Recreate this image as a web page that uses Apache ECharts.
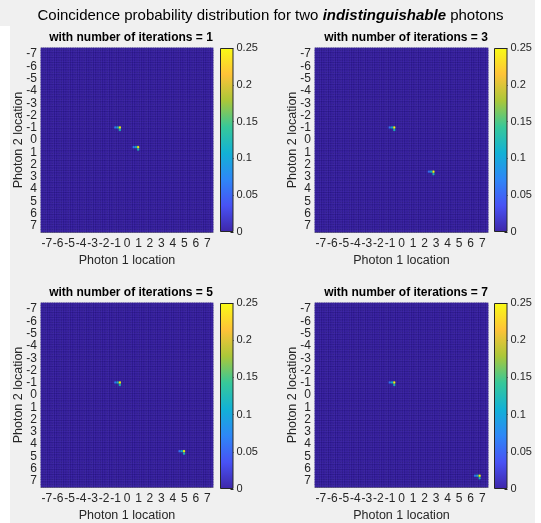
<!DOCTYPE html>
<html>
<head>
<meta charset="utf-8">
<script src="https://cdn.jsdelivr.net/npm/echarts@6/dist/echarts.min.js"></script>
<style>
  html, body { margin: 0; padding: 0; background: #ffffff; }
  #chart { width: 541px; height: 523px; }
</style>
</head>
<body>
<div id="chart"></div>
<script>
// grid of locations, step 0.2, from -7.4 to 7.4 (cell centres)
const locations = []
for (let i = -37; i <= 37; i++) locations.push((i / 5).toFixed(1))

const iterations = [1, 3, 5, 7]
// first photon pair peak stays put, second one walks along the diagonal
const peakA = [-0.6, -1.0]
const peakBx = [1.0, 2.8, 5.0, 6.8]
const peakBy = [0.6, 2.6, 4.6, 6.6]
// values of the little cluster: [dx, dy, value]
const peakShape = [
  [0, 0, 0.25],
  [-0.2, 0, 0.11],
  [-0.4, 0, 0.06],
  [0, 0.2, 0.12]
]
const cbarTicks = [0, 0.05, 0.1, 0.15, 0.2, 0.25]

const parula = ['#3e26a8', '#4852f4', '#2e87f7', '#12b1d6', '#37c899', '#abc739', '#fec338', '#f9fb15']

// panel layout (plot box, colorbar, title centre)
const panels = [
  { left: 41, top: 48, width: 172, height: 184, cbLeft: 220, tx: 126, ty: 27 },
  { left: 315, top: 48, width: 173, height: 184, cbLeft: 494, tx: 401, ty: 27 },
  { left: 41, top: 303, width: 172, height: 186, cbLeft: 220, tx: 126, ty: 282 },
  { left: 315, top: 303, width: 173, height: 186, cbLeft: 494, tx: 401, ty: 282 }
]

function idx(v) {
  return Math.round(v * 5) + 37
}

function buildData(k) {
  const grid = {}
  const add = (x, y, v) => { grid[idx(x) + '_' + idx(y)] = v }
  peakShape.forEach(p => {
    add(peakA[0] + p[0], peakA[1] + p[1], p[2])
    add(peakBx[k] + p[0], peakBy[k] + p[1], p[2])
  })
  const data = []
  for (let i = 0; i < locations.length; i++) {
    for (let j = 0; j < locations.length; j++) {
      const v = grid[i + '_' + j] || 0
      data.push([i, j, v])
    }
  }
  return data
}

const chart = echarts.init(document.getElementById('chart'))
const txt = '#262626'
const labelIv = (i) => (i - 2) % 5 === 0
const labelFmt = (v) => String(Math.round(parseFloat(v)))

const option = {
  backgroundColor: '#ffffff',
  animation: false,
  graphic: [{
    type: 'rect', silent: true, z: -10,
    shape: { x: 10, y: 0, width: 525, height: 523 },
    style: { fill: '#f0f0f0' }
  }, {
    type: 'rect', silent: true, z: -10,
    shape: { x: 0, y: 0, width: 12, height: 26 },
    style: { fill: '#f0f0f0' }
  }],
  title: [{
    text: '{a|Coincidence probability distribution for two }{b|indistinguishable}{a| photons}',
    left: 'center',
    top: 3,
    textStyle: {
      fontWeight: 'normal',
      rich: {
        a: { fontFamily: 'Liberation Sans', fontSize: 15, fontWeight: 'normal', color: '#000' },
        b: { fontFamily: 'Liberation Sans', fontSize: 15, fontWeight: 'bold', fontStyle: 'italic', color: '#000' }
      }
    }
  }],
  visualMap: {
    show: false,
    min: 0,
    max: 0.25,
    seriesIndex: [0, 1, 2, 3],
    inRange: { color: parula }
  },
  grid: [],
  xAxis: [],
  yAxis: [],
  series: []
}

panels.forEach((p, k) => {
  option.title.push({
    text: 'with number of iterations = ' + iterations[k],
    left: p.tx,
    textAlign: 'center',
    top: p.ty,
    textStyle: { fontFamily: 'Liberation Sans', fontSize: 12, fontWeight: 'bold', color: '#000' }
  })
  option.grid.push({ left: p.left, top: p.top, width: p.width, height: p.height })
  option.xAxis.push({
    type: 'category',
    gridIndex: k,
    data: locations,
    name: 'Photon 1 location',
    nameLocation: 'middle',
    nameGap: 22,
    nameMoveOverlap: false,
    nameTextStyle: { fontFamily: 'Liberation Sans', fontSize: 12.5, color: txt },
    axisLine: { show: true, lineStyle: { color: txt, width: 0.5 } },
    axisTick: { show: false },
    axisLabel: {
      interval: labelIv,
      formatter: labelFmt,
      fontFamily: 'Liberation Sans',
      fontSize: 12,
      color: txt,
      margin: 6
    },
    splitLine: { show: false }
  })
  option.yAxis.push({
    type: 'category',
    gridIndex: k,
    data: locations,
    inverse: true,
    name: 'Photon 2 location',
    nameLocation: 'middle',
    nameGap: 16,
    nameMoveOverlap: false,
    nameTextStyle: { fontFamily: 'Liberation Sans', fontSize: 12.5, color: txt },
    axisLine: { show: true, lineStyle: { color: txt, width: 0.5 } },
    axisTick: { show: false },
    axisLabel: {
      interval: labelIv,
      formatter: labelFmt,
      fontFamily: 'Liberation Sans',
      fontSize: 12,
      color: txt,
      margin: 4
    },
    splitLine: { show: false }
  })
  option.series.push({
    type: 'heatmap',
    xAxisIndex: k,
    yAxisIndex: k,
    data: buildData(k),
    itemStyle: { borderColor: 'rgba(25,12,95,0.55)', borderWidth: 0.4 },
    progressive: 0
  })
})

// colour bars, drawn as one tall bar with the parula gradient on a value axis
const stops = parula.map((c, i) => ({ offset: i / (parula.length - 1), color: c }))
panels.forEach((p, k) => {
  const g = 4 + k
  option.grid.push({ left: p.cbLeft, top: p.top, width: 13.5, height: p.height })
  option.xAxis.push({
    type: 'category', gridIndex: g, data: ['c'],
    axisLine: { show: false }, axisTick: { show: false }, axisLabel: { show: false }
  })
  option.yAxis.push({
    type: 'value', gridIndex: g, position: 'right',
    min: 0, max: 0.25, interval: 0.05,
    axisLine: { show: false },
    axisTick: { show: true, inside: true, length: 3, lineStyle: { color: txt } },
    axisLabel: { fontFamily: 'Liberation Sans', fontSize: 11, color: txt, margin: 3 },
    splitLine: { show: false }
  })
  option.series.push({
    type: 'bar',
    xAxisIndex: g,
    yAxisIndex: g,
    data: [cbarTicks[cbarTicks.length - 1]],
    barWidth: '100%',
    silent: true,
    itemStyle: {
      color: new echarts.graphic.LinearGradient(0, 1, 0, 0, stops),
      borderColor: txt,
      borderWidth: 1
    }
  })
})

chart.setOption(option)
</script>
</body>
</html>
